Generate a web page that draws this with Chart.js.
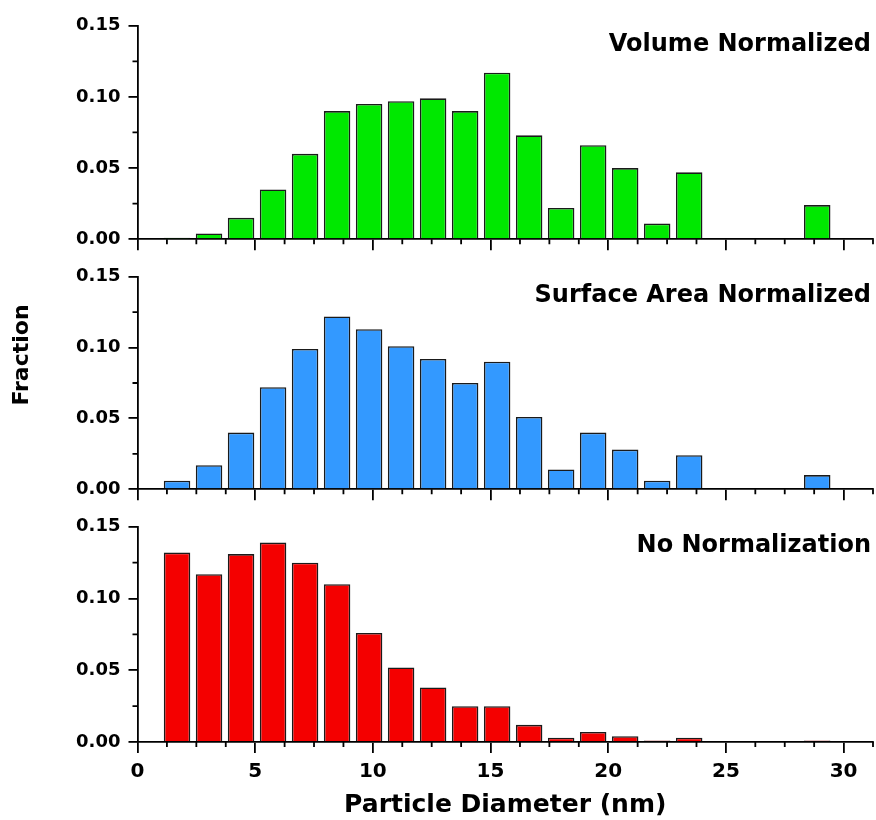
<!DOCTYPE html>
<html>
<head>
<meta charset="utf-8">
<script src="https://cdn.jsdelivr.net/npm/chart.js@4.4.1/dist/chart.umd.min.js"></script>
<style>
  body { margin: 0; background: #fff; }
  #wrap { position: relative; width: 876px; height: 820px; }
  canvas { position: absolute; left: 0; }
</style>
</head>
<body>
<div id="wrap">
  <canvas id="c1" width="876" height="258" style="top:0"></canvas>
  <canvas id="c2" width="876" height="250" style="top:258px"></canvas>
  <canvas id="c3" width="876" height="312" style="top:508px"></canvas>
</div>
<script>
// bin centres (nm)
const diameters = [1.68, 3.04, 4.40, 5.76, 7.12, 8.48, 9.84, 11.20, 12.56, 13.92, 15.28,
                   16.64, 18.00, 19.36, 20.72, 22.08, 23.44, 24.80, 26.16, 27.52, 28.88];
const volumeFrac  = [0.001, 0.004, 0.015, 0.035, 0.060, 0.090, 0.095, 0.097, 0.099, 0.090, 0.117,
                     0.073, 0.022, 0.066, 0.050, 0.011, 0.047, null, null, null, 0.024];
const surfaceFrac = [0.006, 0.017, 0.040, 0.072, 0.099, 0.122, 0.113, 0.101, 0.092, 0.075, 0.090,
                     0.051, 0.014, 0.040, 0.028, 0.006, 0.024, null, null, null, 0.010];
const numberFrac  = [0.132, 0.117, 0.131, 0.139, 0.125, 0.110, 0.076, 0.052, 0.038, 0.025, 0.025,
                     0.012, 0.003, 0.007, 0.004, 0.001, 0.003, null, null, null, 0.001];
const xTicks = [0, 5, 10, 15, 20, 25, 30];
const yTicks = [0, 0.05, 0.10, 0.15];

// minor tick positions
const xMinor = [];
for (let v = 1.25; v <= 31.25; v += 1.25) if (v % 5 !== 0) xMinor.push(v);
const yMinor = [0.025, 0.075, 0.125];

Chart.defaults.font.family = "'DejaVu Sans', sans-serif";
Chart.defaults.font.weight = 'bold';
Chart.defaults.color = '#000';

//short ticks between the labelled ones
const minorTicks = {
  id: 'minorTicks',
  afterDraw(chart) {
    const { ctx, scales: { x, y }, chartArea } = chart;
    ctx.save();
    ctx.strokeStyle = '#000';
    ctx.lineWidth = 1.8;
    ctx.beginPath();
    xMinor.forEach(v => {
      const px = x.getPixelForValue(v);
      ctx.moveTo(px, chartArea.bottom);
      ctx.lineTo(px, chartArea.bottom + 5);
    });
    yMinor.forEach(v => {
      const py = y.getPixelForValue(v);
      ctx.moveTo(chartArea.left, py);
      ctx.lineTo(chartArea.left - 5, py);
    });
    ctx.stroke();
    ctx.restore();
  }
};

//label in the top right corner + optional y title
const panelText = {
  id: 'panelText',
  afterDraw(chart, args, opts) {
    const { ctx, chartArea } = chart;
    ctx.save();
    ctx.fillStyle = '#000';
    ctx.font = "bold 24px 'DejaVu Sans', sans-serif";
    ctx.textAlign = 'right';
    ctx.textBaseline = 'middle';
    ctx.fillText(opts.text, chartArea.right - 2, chartArea.top + 19);
    if (opts.yTitle) {
      ctx.translate(22, opts.yTitleY);
      ctx.rotate(-Math.PI / 2);
      ctx.textAlign = 'center';
      ctx.font = "bold 22px 'DejaVu Sans', sans-serif";
      ctx.fillText(opts.yTitle, 0, 0);
    }
    ctx.restore();
  }
};

function makePanel(id, values, color, label, cfg) {
  return new Chart(document.getElementById(id), {
    type: 'bar',
    data: {
      datasets: [{
        data: diameters.map((d, i) => ({ x: d, y: values[i] })),
        backgroundColor: color,
        borderColor: '#1a1a1a',
        borderWidth: 1.6,
        barPercentage: 0.91,
        categoryPercentage: 0.91
      }]
    },
    options: {
      responsive: false,
      animation: false,
      layout: { padding: { top: cfg.padTop, right: 3, left: 0, bottom: 0 } },
      plugins: {
        legend: { display: false },
        tooltip: { enabled: false },
        panelText: { text: label, yTitle: cfg.yTitle, yTitleY: cfg.yTitleY }
      },
      scales: {
        x: {
          type: 'linear',
          min: 0,
          max: 31.25,
          offset: false,
          grid: { offset: false, drawOnChartArea: false, color: '#000', lineWidth: 1.8, tickLength: 11 },
          border: { color: '#000', width: 1.8 },
          ticks: { display: cfg.showX, padding: 7, font: { size: 20 } },
          title: {
            display: cfg.showX,
            text: 'Particle Diameter (nm)',
            font: { size: 25 },
            padding: { top: 0, bottom: 0 }
          },
          afterBuildTicks: s => { s.ticks = xTicks.map(v => ({ value: v })); },
          afterFit: s => { s.height = cfg.xHeight; }
        },
        y: {
          min: 0,
          max: 0.15,
          grid: { drawOnChartArea: false, color: '#000', lineWidth: 1.8, tickLength: 9 },
          border: { color: '#000', width: 1.8 },
          ticks: {
            padding: 8,
            font: { size: 18 },
            callback: v => v.toFixed(2)
          },
          afterBuildTicks: s => { s.ticks = yTicks.map(v => ({ value: v })); },
          afterFit: s => { s.width = 137.5; }
        }
      }
    },
    plugins: [minorTicks, panelText]
  });
}

makePanel('c1', volumeFrac, '#00e800', 'Volume Normalized',
  { padTop: 25.7, xHeight: 9.7, showX: false });
makePanel('c2', surfaceFrac, '#3399ff', 'Surface Area Normalized',
  { padTop: 17, xHeight: 9.7, showX: false, yTitle: 'Fraction', yTitleY: 97 });
makePanel('c3', numberFrac, '#f40000', 'No Normalization',
  { padTop: 11.7, xHeight: 78, showX: true });
</script>
</body>
</html>
